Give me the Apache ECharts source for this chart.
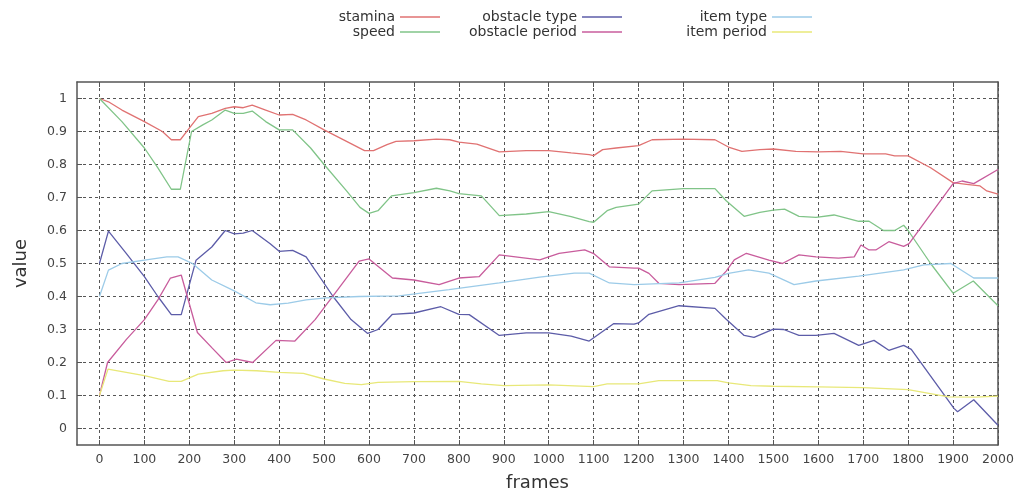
<!DOCTYPE html>
<html>
<head>
<meta charset="utf-8">
<script src="https://cdn.jsdelivr.net/npm/echarts@6/dist/echarts.min.js"></script>
<style>html,body{margin:0;padding:0;background:#fff;}#c{width:1019px;height:497px;}</style>
</head>
<body>
<div id="c"></div>
<script>
// tick labels
const xTicks = [0,100,200,300,400,500,600,700,800,900,1000,1100,1200,1300,1400,1500,1600,1700,1800,1900,2000];
const yTicks = [0,0.1,0.2,0.3,0.4,0.5,0.6,0.7,0.8,0.9,1];
const seriesNames = ['stamina','speed','obstacle type','obstacle period','item type','item period'];

// [frame, value]
const stamina = [[0,1.0],[20,0.99],[50,0.965],[100,0.93],[140,0.9],[160,0.875],[180,0.875],[200,0.91],[220,0.945],[250,0.955],[280,0.97],[300,0.975],[320,0.972],[340,0.98],[370,0.965],[400,0.95],[430,0.952],[460,0.935],[500,0.905],[550,0.87],[590,0.842],[610,0.842],[640,0.86],[660,0.87],[700,0.872],[750,0.877],[780,0.875],[800,0.868],[840,0.862],[890,0.838],[950,0.842],[1000,0.842],[1050,0.835],[1090,0.83],[1100,0.827],[1120,0.845],[1150,0.85],[1200,0.857],[1230,0.875],[1300,0.877],[1370,0.875],[1400,0.853],[1430,0.84],[1470,0.845],[1500,0.847],[1550,0.84],[1600,0.838],[1650,0.84],[1700,0.832],[1750,0.832],[1770,0.826],[1800,0.826],[1850,0.79],[1900,0.745],[1930,0.74],[1960,0.735],[1975,0.72],[2000,0.71]];
const speed = [[0,1.0],[50,0.93],[100,0.85],[130,0.79],[160,0.725],[180,0.725],[205,0.9],[230,0.92],[250,0.935],[280,0.965],[300,0.955],[320,0.955],[340,0.962],[370,0.93],[400,0.905],[430,0.905],[470,0.85],[500,0.8],[550,0.72],[580,0.67],[600,0.652],[620,0.66],[650,0.705],[700,0.715],[750,0.728],[780,0.72],[800,0.712],[850,0.705],[890,0.645],[950,0.65],[1000,0.657],[1050,0.642],[1090,0.627],[1100,0.625],[1130,0.66],[1150,0.67],[1200,0.68],[1230,0.72],[1300,0.727],[1370,0.727],[1395,0.69],[1435,0.643],[1470,0.655],[1500,0.662],[1525,0.665],[1557,0.643],[1595,0.64],[1635,0.647],[1690,0.628],[1713,0.628],[1745,0.6],[1770,0.6],[1790,0.616],[1800,0.6],[1850,0.5],[1900,0.41],[1945,0.447],[2000,0.372]];
const obstacleType = [[0,0.5],[20,0.598],[60,0.53],[100,0.46],[130,0.4],[160,0.345],[182,0.345],[215,0.51],[250,0.55],[280,0.6],[300,0.59],[320,0.592],[340,0.6],[380,0.56],[400,0.537],[430,0.54],[460,0.52],[520,0.4],[560,0.33],[597,0.288],[620,0.3],[652,0.346],[700,0.35],[760,0.369],[800,0.346],[823,0.345],[890,0.282],[950,0.29],[1000,0.29],[1050,0.28],[1090,0.265],[1145,0.318],[1190,0.316],[1200,0.32],[1223,0.346],[1290,0.372],[1370,0.364],[1395,0.331],[1435,0.282],[1457,0.276],[1500,0.301],[1523,0.3],[1557,0.282],[1595,0.282],[1635,0.288],[1690,0.252],[1724,0.267],[1757,0.237],[1790,0.252],[1807,0.24],[1902,0.061],[1910,0.051],[1946,0.087],[2000,0.01]];
const obstaclePeriod = [[0,0.1],[18,0.2],[60,0.27],[100,0.33],[130,0.39],[158,0.456],[182,0.465],[218,0.291],[250,0.245],[282,0.2],[305,0.21],[341,0.2],[393,0.267],[435,0.265],[480,0.33],[530,0.42],[578,0.507],[600,0.514],[652,0.456],[700,0.45],[756,0.436],[800,0.456],[845,0.46],[890,0.526],[980,0.511],[1023,0.531],[1080,0.541],[1100,0.53],[1135,0.49],[1190,0.486],[1200,0.486],[1223,0.47],[1245,0.44],[1290,0.436],[1370,0.44],[1395,0.477],[1413,0.511],[1440,0.531],[1490,0.51],[1520,0.5],[1557,0.526],[1595,0.52],[1645,0.516],[1680,0.52],[1695,0.556],[1713,0.541],[1728,0.541],[1757,0.566],[1790,0.552],[1802,0.56],[1900,0.742],[1920,0.75],[1946,0.742],[2000,0.785]];
const itemType = [[0,0.4],[20,0.48],[50,0.5],[100,0.51],[150,0.52],[175,0.52],[207,0.5],[250,0.45],[300,0.417],[348,0.381],[380,0.375],[420,0.38],[460,0.39],[504,0.396],[578,0.4],[667,0.402],[778,0.421],[890,0.441],[980,0.459],[1057,0.471],[1090,0.471],[1135,0.441],[1190,0.436],[1290,0.441],[1370,0.458],[1400,0.47],[1445,0.481],[1490,0.471],[1546,0.436],[1595,0.447],[1690,0.462],[1790,0.481],[1835,0.496],[1895,0.5],[1946,0.456],[2000,0.456]];
const itemPeriod = [[0,0.1],[19,0.18],[100,0.16],[155,0.143],[182,0.143],[220,0.165],[275,0.175],[300,0.177],[350,0.175],[400,0.17],[454,0.167],[500,0.15],[546,0.137],[583,0.133],[620,0.14],[700,0.142],[800,0.143],[850,0.135],[900,0.13],[1000,0.132],[1100,0.127],[1130,0.135],[1200,0.135],[1245,0.145],[1300,0.145],[1375,0.145],[1400,0.138],[1450,0.13],[1500,0.128],[1600,0.126],[1700,0.124],[1800,0.118],[1890,0.096],[1950,0.095],[2000,0.098]];

const seriesData = [stamina, speed, obstacleType, obstaclePeriod, itemType, itemPeriod];
const colors = ['#e07272','#80c488','#5c5ca8','#c85c9c','#9ccbe8','#e8e878'];

const font = 'DejaVu Sans';
const gridLine = {show:true, lineStyle:{color:'#555', type:[3,3], width:1}};
const axLine = {show:true, onZero:false, lineStyle:{color:'#555', width:1.5}};

const legendPos = [
  {right:579, top:10},{right:579, top:25},
  {right:397, top:10},{right:397, top:25},
  {right:207, top:10},{right:207, top:25}
];

const chart = echarts.init(document.getElementById('c'));
chart.setOption({
  animation:false,
  backgroundColor:'#fff',
  color: colors,
  textStyle:{fontFamily:font},
  legend: seriesNames.map((n,i)=>({
    data:[n], right:legendPos[i].right, top:legendPos[i].top, padding:0,
    align:'right', icon:'rect', itemWidth:40, itemHeight:1.5,
    selectedMode:false,
    textStyle:{fontFamily:font, fontSize:14, color:'#333'}
  })),
  grid:{left:77, right:21, top:82, bottom:49, containLabel:false},
  xAxis:[{
    type:'value', min:-50, max:2000, position:'bottom',
    name:'frames', nameLocation:'middle', nameGap:29,
    nameTextStyle:{fontFamily:font, fontSize:18, color:'#333'},
    axisLine:axLine,
    axisTick:{show:true, inside:true, length:5, customValues:xTicks, lineStyle:{color:'#555'}},
    axisLabel:{customValues:xTicks, margin:8, fontSize:12.5, color:'#444', fontFamily:font,
      formatter:(v)=>String(v)},
    splitLine:gridLine
  },{
    type:'value', min:-50, max:2000, position:'top',
    axisLine:axLine,
    axisTick:{show:true, inside:true, length:5, customValues:xTicks, lineStyle:{color:'#555'}},
    axisLabel:{show:false}, splitLine:{show:false}
  }],
  yAxis:[{
    type:'value', min:-0.05, max:1.05, position:'left',
    name:'value', nameLocation:'middle', nameGap:47, nameRotate:90,
    nameTextStyle:{fontFamily:font, fontSize:18, color:'#333'},
    axisLine:axLine,
    axisTick:{show:true, inside:true, length:5, customValues:yTicks, lineStyle:{color:'#555'}},
    axisLabel:{customValues:yTicks, margin:10, fontSize:12.5, color:'#444', fontFamily:font,
      formatter:(v)=>String(v)},
    splitLine:gridLine
  },{
    type:'value', min:-0.05, max:1.05, position:'right',
    axisLine:axLine,
    axisTick:{show:true, inside:true, length:5, customValues:yTicks, lineStyle:{color:'#555'}},
    axisLabel:{show:false}, splitLine:{show:false}
  }],
  series: seriesNames.map((n,i)=>({
    name:n, type:'line', data:seriesData[i], xAxisIndex:0, yAxisIndex:0,
    symbol:'none', showSymbol:false,
    lineStyle:{width:1.3, color:colors[i]}, itemStyle:{color:colors[i]}
  }))
});
</script>
</body>
</html>
